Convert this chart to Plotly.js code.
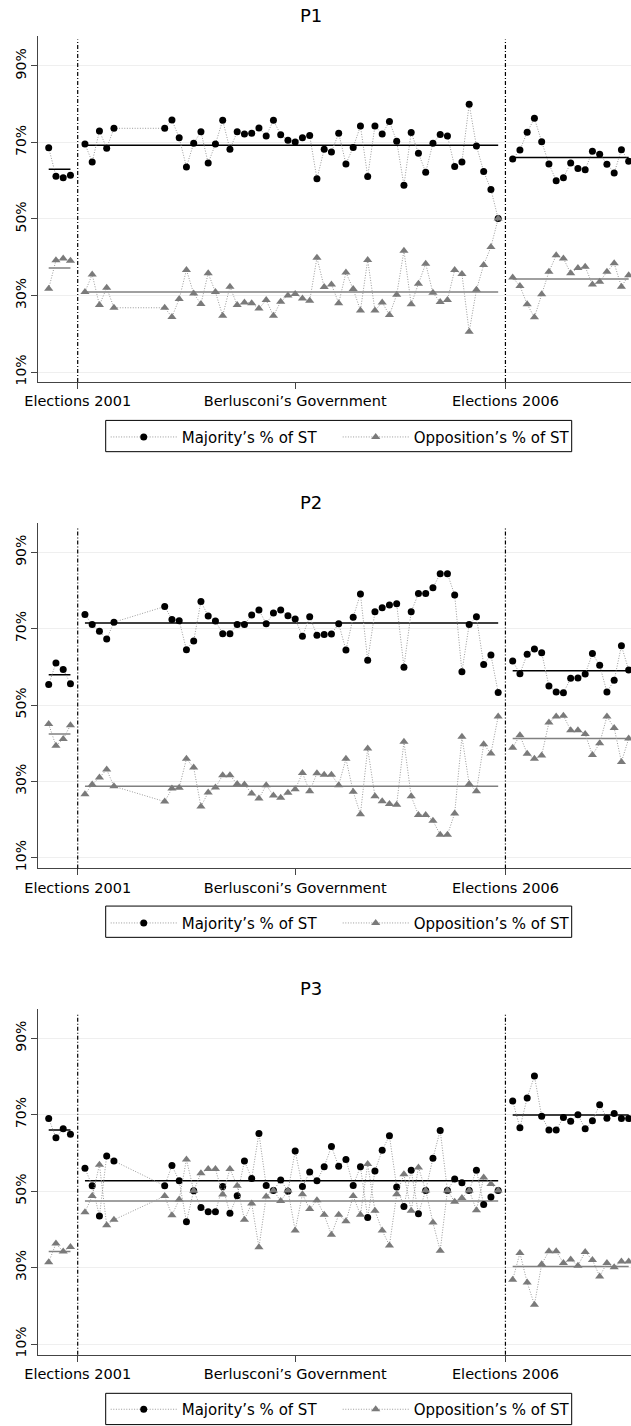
<!DOCTYPE html>
<html><head><meta charset="utf-8">
<script src="https://cdn.plot.ly/plotly-3.0.1.min.js"></script>
<style>html,body{margin:0;padding:0;background:#fff}#chart{width:631px;height:1426px}</style>
</head><body><div id="chart"></div>
<script>
// ---------- DATA ----------
const periodsPre  = [0,1,2,3];
const periodsMid  = [5,6,7,8,9,16,17,18,19,20,21,22,23,24,25,26,27,28,29,30,31,32,33,34,35,36,37,38,39,40,41,42,43,44,45,46,47,48,49,50,51,52,53,54,55,56,57,58,59,60,61,62];
const periodsPost = [64,65,66,67,68,69,70,71,72,73,74,75,76,77,78,79,80];
const electionPeriods = [4, 63];
const tickPeriods = [4, 34, 63];
const tickLabels = ['Elections 2001', 'Berlusconi’s Government', 'Elections 2006'];
const yTickVals = [10, 30, 50, 70, 90];
const yTickLabels = ['10%', '30%', '50%', '70%', '90%'];
const panelTitles = ['P1', 'P2', 'P3'];
const seriesNames = ['Majority’s % of ST', 'Opposition’s % of ST'];

const p1MajPre  = [68.6, 61.2, 60.8, 61.4];
const p1MajMid  = [69.6, 64.9, 73.0, 68.5, 73.7,
  73.7, 75.9, 71.2, 63.6, 69.8, 72.8, 64.6, 69.6, 75.8, 68.2,
  72.8, 72.2, 72.4, 73.8, 71.7, 75.8, 72.0, 70.6, 70.1, 71.2,
  71.8, 60.5, 68.2, 67.5, 72.4, 64.4, 68.7, 74.3, 61.1, 74.3,
  72.2, 75.5, 70.3, 58.8, 72.6, 67.2, 62.2, 69.8, 72.1, 71.7,
  63.7, 64.9, 80.0, 69.1, 62.4, 57.7, 50.1];
const p1MajPost = [65.7, 68.0, 72.7, 76.3, 70.2, 64.4, 60.0, 60.8, 64.6, 63.2, 62.9, 67.7, 66.9, 64.3, 62.0, 68.1, 65.1];
const p1OppPre  = [31.8, 39.2, 39.7, 39.1];
const p1OppMid  = [30.9, 35.5, 27.5, 32.0, 26.8,
  26.8, 24.4, 29.1, 36.7, 30.5, 27.8, 35.8, 30.9, 24.7, 32.3,
  27.5, 28.2, 28.0, 26.6, 28.8, 24.7, 28.4, 30.0, 30.4, 29.2,
  28.6, 39.9, 32.2, 32.9, 28.0, 36.0, 31.7, 26.1, 39.3, 26.1,
  28.2, 24.9, 30.2, 41.7, 27.7, 33.1, 38.3, 30.7, 28.3, 28.8,
  36.7, 35.6, 20.5, 31.5, 38.0, 42.7, 50.1];
const p1OppPost = [34.7, 32.5, 27.7, 24.3, 30.3, 36.2, 40.5, 39.7, 35.8, 37.2, 37.5, 32.9, 33.6, 36.2, 38.4, 32.3, 35.3];
const p1MajMeans = [63.0, 69.3, 66.1];
const p1OppMeans = [37.2, 30.9, 34.3];

const p2MajPre  = [55.4, 61.0, 59.3, 55.6];
const p2MajMid  = [73.7, 71.1, 69.3, 67.3, 71.7,
  75.8, 72.4, 72.1, 64.5, 66.8, 77.1, 73.3, 72.0, 68.7, 68.7,
  71.1, 71.1, 73.6, 74.9, 71.3, 74.1, 74.9, 73.4, 72.5, 68.0,
  73.1, 68.3, 68.5, 68.6, 71.3, 64.4, 73.0, 79.1, 61.7, 74.4,
  75.5, 76.2, 76.5, 59.9, 74.4, 79.2, 79.2, 80.7, 84.4, 84.4,
  78.8, 58.7, 71.1, 73.1, 60.6, 63.1, 53.3];
const p2MajPost = [61.5, 58.2, 63.3, 64.7, 63.7, 55.0, 53.4, 53.2, 57.0, 57.1, 58.1, 63.5, 60.4, 53.4, 56.5, 65.5, 59.2];
const p2OppPre  = [45.0, 39.3, 41.1, 44.7];
const p2OppMid  = [26.6, 29.2, 31.0, 33.1, 28.7,
  24.7, 28.1, 28.3, 35.9, 33.6, 23.4, 27.1, 28.4, 31.6, 31.6,
  29.3, 29.2, 26.8, 25.5, 29.0, 26.3, 25.7, 27.0, 27.9, 32.2,
  27.4, 32.1, 31.7, 31.7, 29.0, 35.9, 27.3, 21.4, 38.6, 26.1,
  24.8, 24.1, 23.9, 40.4, 26.1, 21.2, 21.2, 19.7, 16.0, 16.0,
  21.6, 41.7, 29.3, 27.4, 39.7, 37.3, 47.0];
const p2OppPost = [38.8, 42.1, 37.2, 35.9, 36.8, 45.4, 47.0, 47.2, 43.4, 43.4, 42.4, 36.9, 40.0, 47.0, 44.0, 35.1, 41.2];
const p2MajMeans = [57.9, 71.5, 59.0];
const p2OppMeans = [42.4, 28.7, 41.2];

const p3MajPre  = [69.0, 64.0, 66.3, 64.9];
const p3MajMid  = [56.0, 51.4, 43.5, 59.2, 57.9,
  51.4, 56.7, 52.7, 42.0, 50.1, 45.7, 44.6, 44.6, 51.2, 44.2,
  48.8, 57.9, 53.3, 65.1, 51.5, 50.2, 52.9, 50.0, 60.5, 51.2,
  55.0, 52.7, 56.4, 61.7, 56.5, 58.3, 51.5, 56.4, 43.1, 55.3,
  60.7, 64.5, 51.1, 46.0, 55.5, 44.1, 50.2, 58.6, 65.9, 50.2,
  53.2, 52.2, 50.2, 55.5, 46.5, 48.5, 50.2];
const p3MajPost = [73.6, 66.6, 74.4, 80.1, 69.6, 66.0, 66.0, 69.3, 68.3, 70.0, 66.3, 68.4, 72.6, 69.1, 70.3, 69.0, 69.0];
const p3OppPre  = [31.4, 36.3, 34.2, 35.4];
const p3OppMid  = [44.5, 48.7, 56.9, 41.1, 42.5,
  48.7, 43.7, 47.8, 58.3, 50.1, 54.7, 55.8, 55.8, 49.1, 55.8,
  51.4, 42.5, 46.8, 35.3, 48.6, 50.2, 47.4, 50.2, 39.7, 49.2,
  45.3, 47.6, 43.8, 38.6, 43.8, 42.1, 48.7, 43.8, 57.1, 44.9,
  39.7, 35.8, 49.2, 54.4, 44.9, 56.2, 50.2, 41.8, 34.4, 50.2,
  47.2, 48.2, 50.2, 45.0, 53.6, 51.9, 50.2];
const p3OppPost = [26.8, 33.8, 26.1, 20.3, 30.9, 34.3, 34.3, 31.2, 32.1, 30.5, 34.1, 32.0, 27.7, 31.2, 30.1, 31.6, 31.6];
const p3MajMeans = [66.0, 52.7, 69.9];
const p3OppMeans = [34.2, 47.4, 30.3];

// ---------- LAYOUT CONSTANTS ----------
const W = 631, H = 1426;
const FONT = 'DejaVu Sans';
const plotLeft = 38.3;
const xRange = [-1.434, 80.32];
const panelsGeom = [
  {top: 36,    bottom: 382.3, yr: [7.39, 97.83], titleY: 16,   legTop: 420.7},
  {top: 523.3, bottom: 869,   yr: [7.2, 97.7],   titleY: 503,  legTop: 906.7},
  {top: 1010,  bottom: 1355.7,yr: [7.2, 97.58],  titleY: 989,  legTop: 1394.3}
];
const legLeft = 105.7, legRight = 571.7, legHeight = 31.3;
const panelsData = [
  {maj:[p1MajPre,p1MajMid,p1MajPost], opp:[p1OppPre,p1OppMid,p1OppPost], majM:p1MajMeans, oppM:p1OppMeans},
  {maj:[p2MajPre,p2MajMid,p2MajPost], opp:[p2OppPre,p2OppMid,p2OppPost], majM:p2MajMeans, oppM:p2OppMeans},
  {maj:[p3MajPre,p3MajMid,p3MajPost], opp:[p3OppPre,p3OppMid,p3OppPost], majM:p3MajMeans, oppM:p3OppMeans}
];
const periodSets = [periodsPre, periodsMid, periodsPost];
const py = v => 1 - v / H;
const DOTS = '1px,1.6px';

const traces = [];
const layout = {
  width: W, height: H,
  margin: {l:0, r:0, t:0, b:0},
  paper_bgcolor: '#fff', plot_bgcolor: '#fff',
  showlegend: true,
  annotations: [], shapes: []
};

panelsData.forEach((pd, k) => {
  const g = panelsGeom[k];
  const sfx = k === 0 ? '' : String(k + 1);
  const xa = 'x' + sfx, ya = 'y' + sfx;
  const legName = 'legend' + sfx;

  // mean lines
  [[pd.majM, '#000'], [pd.oppM, '#808080']].forEach(([means, col]) => {
    periodSets.forEach((ps, j) => {
      traces.push({
        x: [ps[0], ps[ps.length - 1]], y: [means[j], means[j]],
        xaxis: xa, yaxis: ya, mode: 'lines', showlegend: false, hoverinfo: 'skip',
        line: {color: col, width: 1.5}
      });
    });
  });

  // series with gaps at the elections
  const build = parts => {
    const xs = [], ys = [];
    parts.forEach((arr, j) => {
      if (j > 0) { xs.push(electionPeriods[j - 1]); ys.push(null); }
      periodSets[j].forEach((p, i) => { xs.push(p); ys.push(arr[i]); });
    });
    return {xs, ys};
  };
  const mj = build(pd.maj), op = build(pd.opp);
  traces.push({
    x: mj.xs, y: mj.ys, xaxis: xa, yaxis: ya, name: seriesNames[0], legend: legName,
    mode: 'lines+markers', cliponaxis: false, connectgaps: false,
    line: {color: '#9a9a9a', width: 1, dash: DOTS},
    marker: {symbol: 'circle', size: 7, color: '#000'}
  });
  traces.push({
    x: op.xs, y: op.ys, xaxis: xa, yaxis: ya, name: seriesNames[1], legend: legName,
    mode: 'lines+markers', cliponaxis: false, connectgaps: false,
    line: {color: '#9a9a9a', width: 1, dash: DOTS},
    marker: {symbol: 'triangle-up', size: 8, color: '#7a7a7a'}
  });

  layout['xaxis' + sfx] = {
    domain: [plotLeft / W, 1], range: xRange, anchor: ya,
    tickmode: 'array', tickvals: tickPeriods, ticktext: tickLabels,
    ticks: 'outside', ticklen: 6, tickcolor: '#444', tickwidth: 1,
    showline: true, linecolor: '#444', linewidth: 1,
    showgrid: false, zeroline: false, fixedrange: true,
    tickfont: {family: FONT, size: 14.5, color: '#000'}
  };
  layout['yaxis' + sfx] = {
    domain: [py(g.bottom), py(g.top)], range: g.yr, anchor: xa,
    tickmode: 'array', tickvals: yTickVals, ticktext: yTickLabels,
    tickangle: -90, ticks: 'outside', ticklen: 6, tickcolor: '#444',
    showline: true, linecolor: '#444', linewidth: 1,
    showgrid: true, gridcolor: '#efefef', gridwidth: 1, zeroline: false, fixedrange: true,
    tickfont: {family: FONT, size: 14, color: '#000'}
  };
  layout[legName] = {
    x: legLeft / W, y: py(g.legTop), xanchor: 'left', yanchor: 'top',
    xref: 'paper', yref: 'paper',
    orientation: 'h', bgcolor: 'rgba(0,0,0,0)', borderwidth: 0,
    itemwidth: 66, entrywidth: 151, entrywidthmode: 'pixels',
    font: {family: FONT, size: 15, color: '#000'},
    traceorder: 'normal'
  };
  layout.shapes.push({
    type: 'rect', xref: 'paper', yref: 'paper', layer: 'below',
    x0: legLeft / W, x1: legRight / W, y0: py(g.legTop + legHeight), y1: py(g.legTop),
    line: {color: '#000', width: 1}, fillcolor: '#fff'
  });
  layout.annotations.push({
    text: panelTitles[k], xref: 'paper', yref: 'paper',
    x: 311 / W, y: py(g.titleY), xanchor: 'center', yanchor: 'middle',
    showarrow: false, font: {family: FONT, size: 18, color: '#000'}
  });
  electionPeriods.forEach(p => {
    layout.shapes.push({
      type: 'line', xref: xa, yref: ya + ' domain', x0: p, x1: p, y0: 0, y1: 0.99,
      line: {color: '#000', width: 1.2, dash: '4px,2px,1px,2px'}
    });
  });
});

Plotly.newPlot('chart', traces, layout, {staticPlot: true, displayModeBar: false});
</script>
</body></html>
